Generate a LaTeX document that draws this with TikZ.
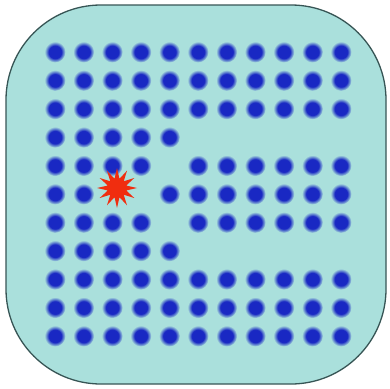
\documentclass[tikz,border=0pt]{standalone}
\usetikzlibrary{shapes.geometric}
\definecolor{bgc}{RGB}{170,224,220}
\definecolor{dotc}{RGB}{25,40,195}
\definecolor{edgec}{RGB}{55,85,85}
\definecolor{starc}{RGB}{240,45,15}
\pgfdeclareradialshading{dotshade}{\pgfpoint{0bp}{0bp}}{color(0bp)=(dotc); color(15bp)=(dotc); color(25bp)=(bgc); color(50bp)=(bgc)}
\tikzset{
  dot/.style={circle, inner sep=0pt, minimum size=21pt, shading=dotshade},
  frame/.style={draw=edgec, line width=1.3pt, fill=bgc, rounded corners=95pt},
  starmark/.style={star, star points=12, star point ratio=2.1, minimum size=40pt, inner sep=0pt, fill=starc}
}
\begin{document}
\begin{tikzpicture}[x=1pt,y=-1pt]
\useasboundingbox (0,0) rectangle (390,388);
\path[frame] (6,5) rectangle (386,384);
\foreach \r/\cols in {1/{1,2,3,4,5,6,7,8,9,10,11},2/{1,2,3,4,5,6,7,8,9,10,11},3/{1,2,3,4,5,6,7,8,9,10,11},4/{1,2,3,4,5},5/{1,2,3,4,6,7,8,9,10,11},6/{1,2,5,6,7,8,9,10,11},7/{1,2,3,4,6,7,8,9,10,11},8/{1,2,3,4,5},9/{1,2,3,4,5,6,7,8,9,10,11},10/{1,2,3,4,5,6,7,8,9,10,11},11/{1,2,3,4,5,6,7,8,9,10,11}}{
  \foreach \c in \cols {
    \node[dot] (d-\r-\c) at ({55+28.6*(\c-1)},{52+28.4*(\r-1)}) {};
  }
}
\node[starmark] (atom) at (117,188) {};
\end{tikzpicture}
\end{document}
